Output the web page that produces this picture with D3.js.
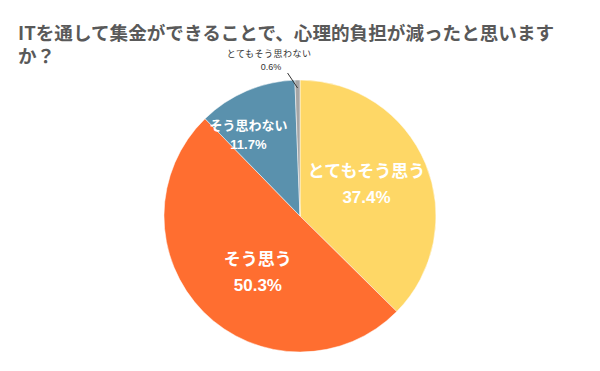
<!DOCTYPE html>
<html>
<head>
<meta charset="utf-8">
<script src="https://cdn.jsdelivr.net/npm/d3@7"></script>
<style>
  body { margin: 0; background: #fff; }
  svg { display: block; font-family: "Noto Sans CJK JP", "Noto Sans", sans-serif; }
</style>
</head>
<body>
<svg width="600" height="371"></svg>
<script>
const labels = ["とてもそう思う", "そう思う", "そう思わない", "とてもそう思わない"];
const values = [37.4, 50.3, 11.7, 0.6];
const colors = ["#fed766", "#ff6e30", "#5a91ad", "#a5a5a5"];
const titleLines = ["ITを通して集金ができることで、心理的負担が減ったと思います", "か？"];

const svg = d3.select("svg");
const cx = 300, cy = 216, radius = 136;

svg.append("g")
  .selectAll("text")
  .data(titleLines)
  .enter()
  .append("text")
  .attr("x", 18)
  .attr("y", (d, i) => 40 + i * 23)
  .attr("font-size", 18.6)
  .attr("font-weight", "bold")
  .attr("fill", "#595959")
  .text((d) => d);

const data = labels.map((l, i) => ({ label: l, value: values[i], color: colors[i] }));

const pie = d3.pie().sort(null).value((d) => d.value);
const arcs = pie(data);
const arc = d3.arc().innerRadius(0).outerRadius(radius);

const g = svg.append("g").attr("transform", "translate(" + cx + "," + cy + ")");

g.selectAll("path")
  .data(arcs)
  .enter()
  .append("path")
  .attr("d", arc)
  .attr("fill", (d) => d.data.color)
  .attr("stroke", "#fff")
  .attr("stroke-width", 0.5);

// inside labels for the bigger slices
const inside = arcs.filter((d) => d.data.value > 5);
const lab = g.selectAll("g.lab")
  .data(inside)
  .enter()
  .append("g")
  .attr("class", "lab")
  .attr("transform", function (d) {
    const a = (d.startAngle + d.endAngle) / 2;
    let r = radius * 0.55, off = -0.08;
    if (d.data.value > 45) { r = radius * 0.5; off = -0.12; }
    if (d.data.value < 20) { r = radius * 0.72; off = -0.15; }
    const aa = a + off;
    return "translate(" + Math.sin(aa) * r + "," + (-Math.cos(aa) * r) + ")";
  });

lab.each(function (d) {
  const fs = d.data.value > 20 ? 17 : 13;
  const el = d3.select(this);
  el.append("text")
    .attr("text-anchor", "middle")
    .attr("y", -fs * 0.25)
    .attr("font-size", fs)
    .attr("font-weight", "bold")
    .attr("fill", "#fff")
    .text(d.data.label);
  el.append("text")
    .attr("text-anchor", "middle")
    .attr("y", fs * 1.25)
    .attr("font-size", fs)
    .attr("font-weight", "bold")
    .attr("fill", "#fff")
    .attr("font-family", "Liberation Sans, Arial, sans-serif")
    .text(d.data.value.toFixed(1) + "%");
});

// outside label for the tiny slice
const small = arcs.filter((d) => d.data.value <= 5);
small.forEach(function (d) {
  const a = (d.startAngle + d.endAngle) / 2;
  const p0 = [Math.sin(a) * (radius - 8), -Math.cos(a) * (radius - 8)];
  const p1 = [p0[0] - 10, p0[1] - 15];
  g.append("line")
    .attr("x1", p0[0]).attr("y1", p0[1])
    .attr("x2", p1[0]).attr("y2", p1[1])
    .attr("stroke", "#333")
    .attr("stroke-width", 1);
  g.append("text")
    .attr("x", p1[0] - 18.5)
    .attr("y", p1[1] - 16)
    .attr("text-anchor", "middle")
    .attr("font-size", 9)
    .attr("letter-spacing", 0.5)
    .attr("fill", "#333")
    .text(d.data.label);
  g.append("text")
    .attr("x", p1[0] - 16.5)
    .attr("y", p1[1] - 3)
    .attr("text-anchor", "middle")
    .attr("font-size", 9)
    .attr("fill", "#333")
    .attr("font-family", "Liberation Sans, Arial, sans-serif")
    .text(d.data.value.toFixed(1) + "%");
});
</script>
</body>
</html>
